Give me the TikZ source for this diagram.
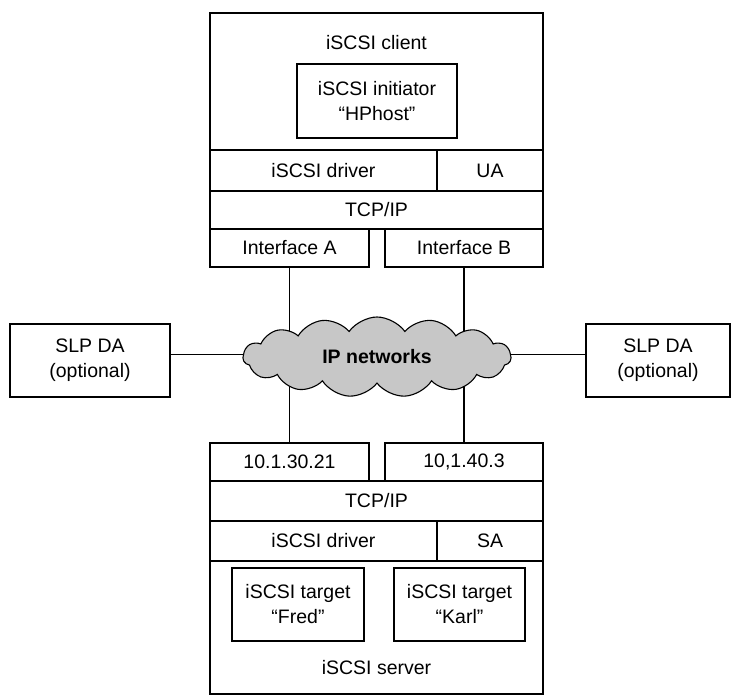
\documentclass[tikz,border=0pt]{standalone}
\usepackage{fontspec}
\setmainfont{Liberation Sans}
\usepackage{tikz}
\usetikzlibrary{shapes.symbols,backgrounds}
\tikzset{
  lab/.style={text=black, font=\fontsize{19.5}{25}\selectfont, align=center},
  box/.style={lab, draw=black, line width=1.4pt, inner sep=0pt},
  tbox/.style={box, line width=2pt},
  link/.style={draw=black, line width=1.5pt},
  netcloud/.style={cloud, cloud puffs=15, cloud puff arc=110, cloud ignores aspect,
    draw=black, line width=1.1pt, fill=black!22, inner sep=0pt,
    font=\bfseries\fontsize{19.5}{25}\selectfont}
}

\begin{document}
\begin{tikzpicture}[x=1pt, y=-1pt]
  \useasboundingbox (0,0) rectangle (736,696);
  % client stack
  \node[box, minimum width=333pt, minimum height=216pt] (client) at (376.5,121) {};
  \node[lab] (clientlab) at (376.5,43) {iSCSI client};
  \node[tbox, minimum width=160pt, minimum height=74pt] (init) at (377,101) {iSCSI initiator\\“HPhost”};
  \node[box, minimum width=227pt, minimum height=41pt] (cdrv) at (323.5,170.5) {iSCSI driver};
  \node[box, minimum width=106pt, minimum height=41pt] (ua) at (490,170.5) {UA};
  \node[box, minimum width=333pt, minimum height=38pt] (ctcp) at (376.5,210) {TCP/IP};
  \node[box, minimum width=159pt, minimum height=38pt] (ifA) at (289.5,248) {Interface A};
  \node[box, minimum width=158pt, minimum height=38pt] (ifB) at (464,248) {Interface B};

  % network and directory agents
  \node[netcloud, minimum width=268pt, minimum height=80pt] (net) at (377,357) {IP networks};
  \node[box, minimum width=160pt, minimum height=73pt] (slpL) at (90,360.5) {SLP DA\\(optional)};
  \node[box, minimum width=144pt, minimum height=73pt] (slpR) at (658,360.5) {SLP DA\\(optional)};

  % server stack
  \node[box, minimum width=159pt, minimum height=38pt] (ipA) at (289.5,462) {10.1.30.21};
  \node[box, minimum width=158pt, minimum height=38pt] (ipB) at (464,462) {10,1.40.3};
  \node[box, minimum width=333pt, minimum height=213pt] (server) at (376.5,587.5) {};
  \node[box, minimum width=333pt, minimum height=40pt] (stcp) at (376.5,501) {TCP/IP};
  \node[box, minimum width=227pt, minimum height=40pt] (sdrv) at (323.5,541) {iSCSI driver};
  \node[box, minimum width=106pt, minimum height=40pt] (sa) at (490,541) {SA};
  \node[tbox, minimum width=132pt, minimum height=73pt] (fred) at (298,604.5) {iSCSI target\\“Fred”};
  \node[tbox, minimum width=131pt, minimum height=73pt] (karl) at (459.5,604.5) {iSCSI target\\“Karl”};
  \node[lab] (serverlab) at (376.5,668) {iSCSI server};

  \begin{scope}[on background layer]
    \draw[link] (ifA.south) -- (ifA.south |- net.center);
    \draw[link] (ifB.south) -- (ifB.south |- net.center);
    \draw[link] (ipA.north) -- (ipA.north |- net.center);
    \draw[link] (ipB.north) -- (ipB.north |- net.center);
    \draw[link] ([yshift=6pt]slpL.east) -- ([yshift=6pt]slpL.east -| net.center);
    \draw[link] ([yshift=6pt]slpR.west) -- ([yshift=6pt]slpR.west -| net.center);
  \end{scope}
\end{tikzpicture}
\end{document}
